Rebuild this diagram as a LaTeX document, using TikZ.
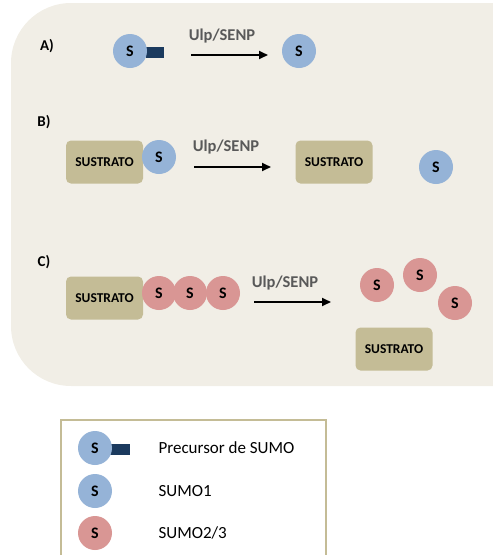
\documentclass[tikz,border=0pt]{standalone}
\usepackage{fontspec}
\setmainfont{Carlito}
\usetikzlibrary{arrows.meta}
\definecolor{bgc}{HTML}{F1EEE6}
\definecolor{sblue}{HTML}{95B3D7}
\definecolor{spink}{HTML}{D99694}
\definecolor{tailc}{HTML}{1B3A5E}
\definecolor{subc}{HTML}{C4BC96}
\definecolor{enz}{HTML}{595959}
\tikzset{
  sumoA/.style={circle,fill=sblue,minimum size=34pt,inner sep=0pt,font=\bfseries\fontsize{16}{18}\selectfont},
  sumoB/.style={circle,fill=spink,minimum size=34pt,inner sep=0pt,font=\bfseries\fontsize{16}{18}\selectfont},
  subbox/.style={rectangle,rounded corners=5pt,fill=subc,minimum width=77pt,minimum height=43pt,inner sep=0pt,font=\bfseries\fontsize{13.5}{15}\selectfont},
  tailbox/.style={rectangle,fill=tailc,minimum width=18pt,minimum height=11pt,inner sep=0pt},
  enzlabel/.style={text=enz,font=\bfseries\fontsize{16.5}{18}\selectfont},
  partlabel/.style={font=\bfseries\fontsize{15}{17}\selectfont},
  reac/.style={line width=2pt,-{Triangle[length=9pt,width=8pt]}},
  legtext/.style={anchor=west,font=\fontsize{17}{19}\selectfont}
}
\begin{document}
\begin{tikzpicture}[x=1pt,y=-1pt]
\useasboundingbox (0,0) rectangle (493,555);
% background panel
\fill[bgc,rounded corners=60pt] (11,3) rectangle (560,386);
% legend frame
\draw[subc,line width=1.5pt] (61,420) rectangle (326,600);

% A
\node[partlabel] (la) at (47,46) {A)};
\node[tailbox] (ta) at (155,52) {};
\node[sumoA] (sa1) at (130,51) {S};
\coordinate (a1) at (191,55);
\coordinate (a2) at (268,55);
\draw[reac] (a1) -- (a2);
\node[enzlabel] (ea) at (222,36) {Ulp/SENP};
\node[sumoA] (sa2) at (299,51) {S};

% B
\node[partlabel] (lb) at (44,122) {B)};
\node[subbox] (bs1) at (104.5,162) {SUSTRATO};
\node[sumoA] (sb1) at (159,157) {S};
\coordinate (b1) at (194,167);
\coordinate (b2) at (271,167);
\draw[reac] (b1) -- (b2);
\node[enzlabel] (eb) at (226,147) {Ulp/SENP};
\node[subbox] (bs2) at (334,162) {SUSTRATO};
\node[sumoA] (sb2) at (436,167) {S};

% C
\node[partlabel] (lc) at (44,262) {C)};
\node[subbox] (cs1) at (104.5,298) {SUSTRATO};
\node[sumoB] (sc1) at (159,293) {S};
\node[sumoB] (sc2) at (190,293) {S};
\node[sumoB] (sc3) at (223,293) {S};
\coordinate (c1) at (254,302);
\coordinate (c2) at (331,302);
\draw[reac] (c1) -- (c2);
\node[enzlabel] (ec) at (285,283) {Ulp/SENP};
\node[sumoB] (sc4) at (377,285) {S};
\node[sumoB] (sc5) at (420,275) {S};
\node[sumoB] (sc6) at (455,303) {S};
\node[subbox] (cs2) at (394,349) {SUSTRATO};

% legend
\node[tailbox,minimum width=20pt] (lt) at (120,449) {};
\node[sumoA] (l1) at (95,448) {S};
\node[legtext] (t1) at (155,448) {Precursor de SUMO};
\node[sumoA] (l2) at (95,491) {S};
\node[legtext] (t2) at (155,491) {SUMO1};
\node[sumoB] (l3) at (95,533) {S};
\node[legtext] (t3) at (155,533) {SUMO2/3};
\end{tikzpicture}
\end{document}
